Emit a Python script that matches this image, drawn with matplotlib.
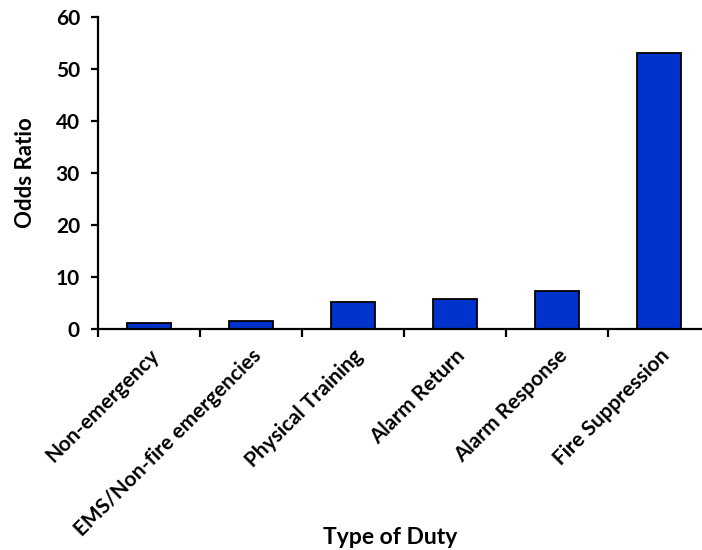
import matplotlib.pyplot as plt
import numpy as np

# Odds ratio by type of duty
duties = ["Non-emergency", "EMS/Non-fire emergencies", "Physical Training",
          "Alarm Return", "Alarm Response", "Fire Suppression"]
odds_ratio = [1.1, 1.45, 5.2, 5.8, 7.35, 53.1]

plt.rcParams['font.family'] = ['Lato', 'DejaVu Sans']
plt.rcParams['font.weight'] = 'bold'

fig = plt.figure(figsize=(7.02, 5.5), dpi=100)
ax = fig.add_axes([98 / 702, 221 / 550, 612 / 702, 312 / 550])

x = np.arange(len(duties))
ax.bar(x, odds_ratio, width=0.44, color='#0033CC', edgecolor='black', linewidth=1.3)

ax.set_xlim(-0.5, len(duties) - 0.5)
ax.set_ylim(0, 60)
ax.set_yticks(range(0, 61, 10))

ax.spines['top'].set_visible(False)
ax.spines['right'].set_visible(False)
for s in ['left', 'bottom']:
    ax.spines[s].set_linewidth(1.6)

ax.tick_params(axis='y', direction='out', length=5, width=1.6, labelsize=15, pad=8)

# category labels at centres, tick marks at boundaries
ax.set_xticks(x)
ax.set_xticklabels(duties, rotation=45, ha='right', rotation_mode='anchor', fontsize=15)
ax.tick_params(axis='x', which='major', length=0, pad=12)
ax.set_xticks(np.arange(-0.5, len(duties), 1), minor=True)
ax.tick_params(axis='x', which='minor', direction='out', length=6, width=1.6)

ax.set_ylabel("Odds Ratio", fontsize=16, fontweight='bold', labelpad=14)
fig.text(390 / 702, 1 - 537 / 550, "Type of Duty", fontsize=16.5, fontweight='bold',
         ha='center', va='center')

fig.savefig("out.png", dpi=100)
